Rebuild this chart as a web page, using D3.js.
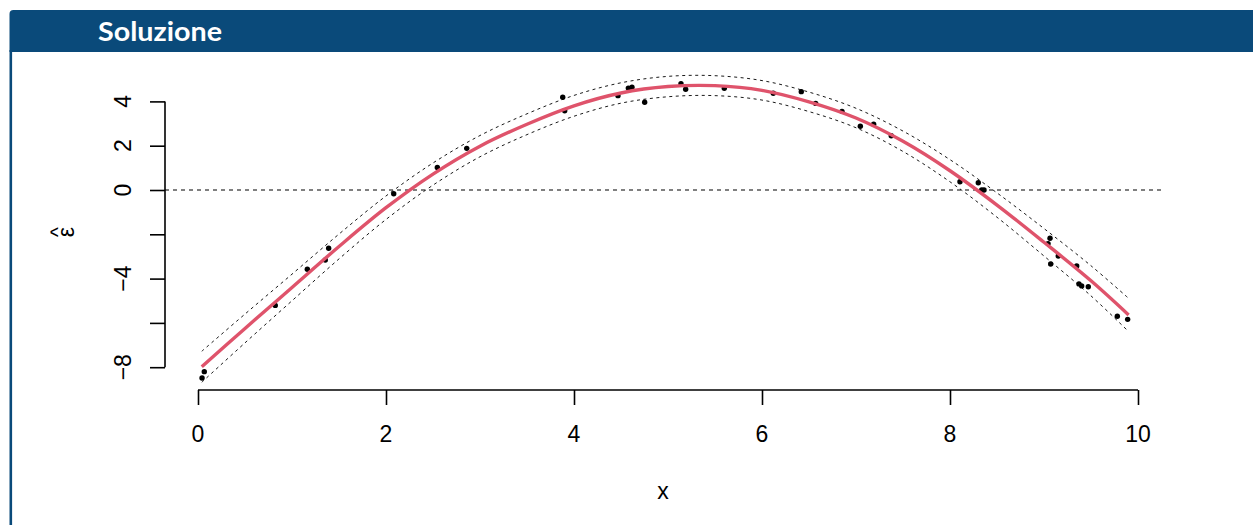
<!DOCTYPE html>
<html>
<head>
<meta charset="utf-8">
<script src="https://cdn.jsdelivr.net/npm/d3@7"></script>
<style>
  body { margin: 0; background: #fff; }
  svg { display: block; }
</style>
</head>
<body>
<script>
// observed points (x, residual)
var obsX = [0.043, 0.067, 0.822, 1.163, 1.354, 1.390, 2.082, 2.546, 2.859, 3.880,
            3.901, 4.468, 4.578, 4.617, 4.752, 5.138, 5.188, 5.599, 6.120, 6.418,
            6.571, 6.851, 7.046, 7.188, 7.375, 8.106, 8.301, 8.337, 8.362, 9.043,
            9.064, 9.071, 9.152, 9.348, 9.372, 9.401, 9.471, 9.780, 9.890];
var obsY = [-8.49, -8.20, -5.21, -3.58, -3.16, -2.63, -0.17, 1.02, 1.88, 4.19,
            3.58, 4.26, 4.60, 4.64, 3.96, 4.80, 4.55, 4.59, 4.37, 4.44,
            3.91, 3.55, 2.88, 2.97, 2.45, 0.37, 0.33, 0.00, 0.00, -2.42,
            -2.18, -3.34, -2.98, -3.43, -4.24, -4.33, -4.37, -5.70, -5.84];

// fitted curve and its band
var fitX   = [0.04, 0.5, 1, 1.5, 2, 2.5, 3, 3.5, 4, 4.5, 5, 5.5, 6, 6.5, 7, 7.5, 8, 8.5, 9, 9.5, 9.9];
var fitY   = [-7.98, -6.25, -4.40, -2.55, -0.80, 0.72, 1.98, 2.97, 3.80, 4.38, 4.67, 4.71, 4.50, 3.98, 3.25, 2.20, 0.87, -0.68, -2.36, -4.10, -5.64];
var upperY = [-7.28, -5.60, -3.80, -1.99, -0.27, 1.22, 2.46, 3.44, 4.27, 4.84, 5.13, 5.16, 4.94, 4.42, 3.69, 2.66, 1.37, -0.13, -1.74, -3.42, -4.89];
var lowerY = [-8.68, -6.90, -5.00, -3.11, -1.33, 0.22, 1.50, 2.50, 3.33, 3.92, 4.21, 4.26, 4.06, 3.54, 2.81, 1.74, 0.37, -1.23, -2.98, -4.78, -6.39];

var xTicks = [0, 2, 4, 6, 8, 10];
var yTicks = [-8, -6, -4, -2, 0, 2, 4];
var yLabels = ["\u22128", "", "\u22124", "", "0", "2", "4"];

var W = 1253, H = 525;
var plotLeft = 165, plotRight = 1162, plotBottom = 390;
var font = "'Liberation Sans', Arial, sans-serif";

var svg = d3.select("body").append("svg")
  .attr("width", W).attr("height", H);

// frame with header bar
var blue = "#0a4a7a";
svg.append("path")
  .attr("d", "M9.5,52 V14 Q9.5,10 13.5,10 H" + W + " V52 Z")
  .attr("fill", blue);
svg.append("rect")
  .attr("x", 9.5).attr("y", 50).attr("width", 2.6).attr("height", H - 50)
  .attr("fill", blue);
svg.append("text")
  .attr("x", 98).attr("y", 40.5)
  .attr("textLength", 124).attr("lengthAdjust", "spacingAndGlyphs")
  .attr("font-family", "Lato, 'Open Sans', sans-serif")
  .attr("font-weight", "bold").attr("font-size", 26)
  .attr("fill", "#fff")
  .text("Soluzione");

var x = d3.scaleLinear().domain([0, 10]).range([198, 1138]);
var y = d3.scaleLinear().domain([-8, 4]).range([367.2, 101.4]);

// zero reference line
svg.append("line")
  .attr("x1", plotLeft).attr("x2", plotRight)
  .attr("y1", y(0)).attr("y2", y(0))
  .attr("stroke", "#000").attr("stroke-width", 1)
  .attr("stroke-dasharray", "4,4");

// band lines
var band = d3.line()
  .x(function(d, i) { return x(fitX[i]); })
  .y(function(d) { return y(d); })
  .curve(d3.curveCatmullRom);

[upperY, lowerY].forEach(function(s) {
  svg.append("path")
    .attr("d", band(s))
    .attr("fill", "none")
    .attr("stroke", "#000").attr("stroke-width", 0.9)
    .attr("stroke-dasharray", "3,3.5");
});

// points
svg.selectAll("circle.pt")
  .data(obsX)
  .enter().append("circle")
  .attr("class", "pt")
  .attr("cx", function(d) { return x(d); })
  .attr("cy", function(d, i) { return y(obsY[i]); })
  .attr("r", 2.7)
  .attr("fill", "#000");

// fitted curve
svg.append("path")
  .attr("d", band(fitY))
  .attr("fill", "none")
  .attr("stroke", "#DF536B").attr("stroke-width", 3.4)
  .attr("stroke-linecap", "butt");

// x axis
var xAxis = d3.axisBottom(x).tickValues(xTicks).tickSize(15).tickSizeOuter(0)
  .tickFormat("");
var gx = svg.append("g").attr("transform", "translate(0," + plotBottom + ")").call(xAxis);
gx.select(".domain").remove();
gx.selectAll(".tick line").attr("stroke-width", 1.6);
gx.append("line")
  .attr("x1", x(xTicks[0])).attr("x2", x(xTicks[xTicks.length - 1]))
  .attr("stroke", "#000").attr("stroke-width", 1.6);
svg.selectAll("text.xl")
  .data(xTicks)
  .enter().append("text")
  .attr("class", "xl")
  .attr("x", function(d) { return x(d); })
  .attr("y", 441.5)
  .attr("text-anchor", "middle")
  .attr("font-family", font).attr("font-size", 23)
  .text(function(d) { return d; });

// y axis
var yAxis = d3.axisLeft(y).tickValues(yTicks).tickSize(15).tickSizeOuter(0)
  .tickFormat("");
var gy = svg.append("g").attr("transform", "translate(" + plotLeft + ",0)").call(yAxis);
gy.select(".domain").remove();
gy.selectAll(".tick line").attr("stroke-width", 1.6);
gy.append("line")
  .attr("y1", y(yTicks[0])).attr("y2", y(yTicks[yTicks.length - 1]))
  .attr("stroke", "#000").attr("stroke-width", 1.6);
svg.selectAll("text.yl")
  .data(yTicks)
  .enter().append("text")
  .attr("class", "yl")
  .attr("transform", function(d) { return "translate(130.5," + y(d) + ") rotate(-90)"; })
  .attr("text-anchor", "middle")
  .attr("font-family", font).attr("font-size", 23)
  .text(function(d, i) { return yLabels[i]; });

// axis titles
svg.append("text")
  .attr("x", 663).attr("y", 499)
  .attr("text-anchor", "middle")
  .attr("font-family", font).attr("font-size", 23)
  .text("x");

var yt = svg.append("g").attr("transform", "translate(73.5,232) rotate(-90)");
yt.append("text")
  .attr("text-anchor", "middle")
  .attr("font-family", font).attr("font-size", 23)
  .text("\u03b5");
yt.append("text")
  .attr("y", -9)
  .attr("text-anchor", "middle")
  .attr("font-family", font).attr("font-size", 21)
  .text("^");
</script>
</body>
</html>
